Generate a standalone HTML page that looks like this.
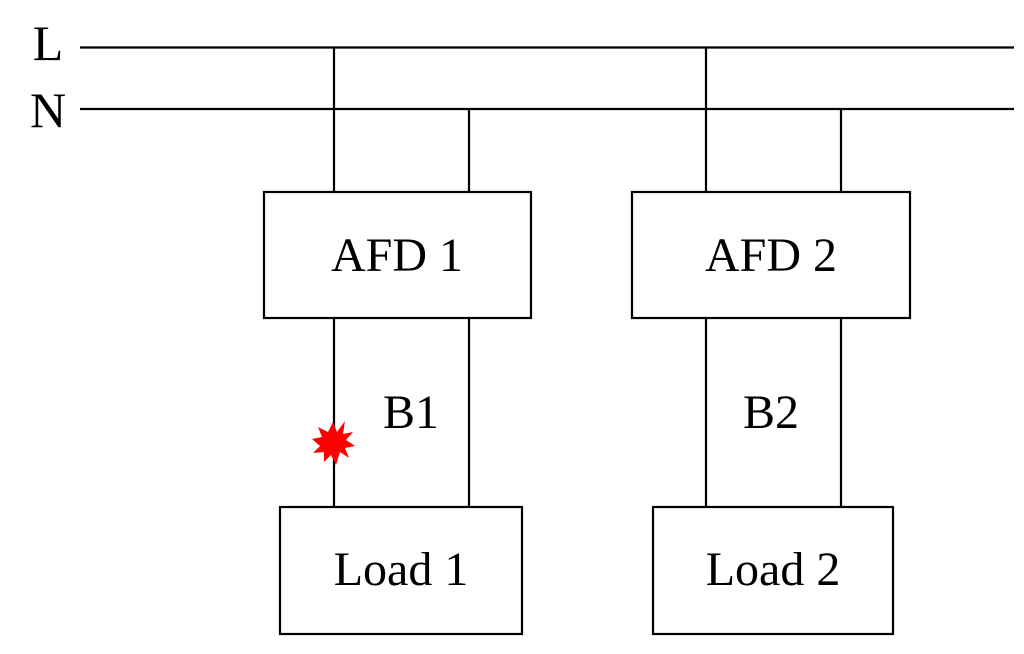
<!DOCTYPE html>
<html><head><meta charset="utf-8"><style>
html,body{margin:0;padding:0;background:#fff;}
svg{display:block}
text{font-family:"Liberation Serif",serif;fill:#000;}
</style></head><body>
<svg width="1024" height="654" viewBox="0 0 1024 654" xmlns="http://www.w3.org/2000/svg">
<g stroke="#000" stroke-width="2.2" fill="none">
<line x1="80" y1="47.5" x2="1014" y2="47.5"/>
<line x1="80" y1="109" x2="1014" y2="109"/>
<line x1="334" y1="47.5" x2="334" y2="192"/>
<line x1="469" y1="109" x2="469" y2="192"/>
<line x1="706" y1="47.5" x2="706" y2="192"/>
<line x1="841" y1="109" x2="841" y2="192"/>
<line x1="334" y1="318" x2="334" y2="507"/>
<line x1="469" y1="318" x2="469" y2="507"/>
<line x1="706" y1="318" x2="706" y2="507"/>
<line x1="841" y1="318" x2="841" y2="507"/>
<rect x="264" y="192" width="267" height="126" fill="#fff"/>
<rect x="632" y="192" width="278" height="126" fill="#fff"/>
<rect x="280" y="507" width="242" height="127" fill="#fff"/>
<rect x="653" y="507" width="240" height="127" fill="#fff"/>
</g>
<polygon fill="#f00" points="333,422 337,432 345,421 343,434 353,432 346,440 355,446 345,448 349,458 340,452 336,465 331,455 324,462 324,452 313,453 320,446 312,439 322,437 318,427 328,432" />
<text x="48" y="60" font-size="50" text-anchor="middle">L</text>
<text x="48" y="127" font-size="50" text-anchor="middle">N</text>
<text x="397" y="271" font-size="48" text-anchor="middle">AFD 1</text>
<text x="771" y="271" font-size="48" text-anchor="middle">AFD 2</text>
<text x="411" y="428" font-size="48" text-anchor="middle">B1</text>
<text x="771" y="428" font-size="48" text-anchor="middle">B2</text>
<text x="401" y="585" font-size="48" text-anchor="middle">Load 1</text>
<text x="773" y="585" font-size="48" text-anchor="middle">Load 2</text>
</svg>
</body></html>
